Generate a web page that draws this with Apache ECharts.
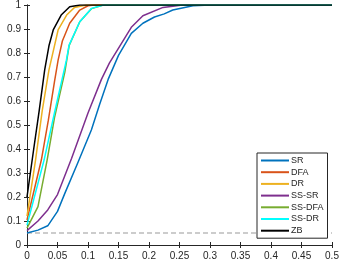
<!DOCTYPE html>
<html><head><meta charset="utf-8">
<script src="https://cdn.jsdelivr.net/npm/echarts@6/dist/echarts.min.js"></script>
<style>html,body{margin:0;padding:0;background:#fff}#c{width:345px;height:273px}</style>
</head><body><div id="c"></div>
<script>
var seriesNames = ['SR','DFA','DR','SS-SR','SS-DFA','SS-DR','ZB'];
var seriesColors = ['#0072BD','#D95319','#EDB120','#7E2F8E','#77AC30','#00FFFF','#000000'];
var SR = [[0,0.05],[0.018,0.062],[0.034,0.08],[0.05,0.14],[0.062,0.215],[0.084,0.347],[0.1055,0.479],[0.119,0.585],[0.133,0.69],[0.15,0.79],[0.171,0.882],[0.19,0.924],[0.209,0.95],[0.225,0.963],[0.239,0.979],[0.272,0.997],[0.3,1],[0.5,1]];
var DFA = [[0,0.104],[0.0235,0.354],[0.035,0.52],[0.045,0.68],[0.051,0.77],[0.058,0.85],[0.070,0.924],[0.0865,0.979],[0.1,0.997],[0.11,1],[0.5,1]];
var DR = [[0,0.12],[0.014,0.354],[0.025,0.56],[0.036,0.73],[0.051,0.896],[0.065,0.958],[0.078,0.99],[0.097,1],[0.5,1]];
var SSSR = [[0,0.06],[0.018,0.10],[0.034,0.146],[0.05,0.21],[0.073,0.36],[0.1,0.55],[0.122,0.69],[0.135,0.758],[0.171,0.907],[0.19,0.955],[0.223,0.99],[0.255,1],[0.5,1]];
var SSDFA = [[0,0.07],[0.018,0.16],[0.033,0.354],[0.045,0.53],[0.062,0.72],[0.069,0.83],[0.0865,0.93],[0.106,0.985],[0.125,1],[0.5,1]];
var SSDR = [[0,0.083],[0.028,0.354],[0.045,0.55],[0.0646,0.77],[0.069,0.833],[0.0865,0.93],[0.106,0.986],[0.125,1],[0.5,1]];
var ZB = [[0,0.20],[0.011,0.40],[0.02,0.56],[0.029,0.73],[0.036,0.83],[0.043,0.896],[0.056,0.958],[0.07,0.993],[0.087,1],[0.5,1]];
var refLevel = [[0,0.05],[0.5,0.05]];
var xTickLabels = ['0','0.05','0.1','0.15','0.2','0.25','0.3','0.35','0.4','0.45','0.5'];
var yTickLabels = ['0','0.1','0.2','0.3','0.4','0.5','0.6','0.7','0.8','0.9','1'];

var allData = [SR, DFA, DR, SSSR, SSDFA, SSDR, ZB];
var chart = echarts.init(document.getElementById('c'));
var axisCol = '#262626';
var lbl = {color:'#262626', fontSize:10, fontFamily:'Liberation Sans, Arial, sans-serif'};
function xl(v){ return xTickLabels[Math.round(v/0.05)]; }
function yl(v){ return yTickLabels[Math.round(v/0.1)]; }
var series = allData.map(function(d,i){
  return {name: seriesNames[i], type:'line', data:d, symbol:'none', animation:false,
    lineStyle:{color:seriesColors[i], width:1.5}, itemStyle:{color:seriesColors[i]}, z: 3+i};
});
series.unshift({name:'ref', type:'line', data:refLevel, symbol:'none', animation:false,
  lineStyle:{color:'#999', width:1, type:[5,3]}, z:2});
chart.setOption({
  animation:false,
  grid:{left:27, right:13, top:5, bottom:28, containLabel:false},
  xAxis:[
    {type:'value', min:0, max:0.5, interval:0.05, position:'bottom',
     axisLine:{lineStyle:{color:axisCol, width:1}}, axisTick:{inside:true, length:3, lineStyle:{color:axisCol}},
     axisLabel:Object.assign({formatter:xl, margin:6}, lbl), splitLine:{show:false}},
    {type:'value', min:0, max:0.5, interval:0.05, position:'top',
     axisLine:{lineStyle:{color:axisCol, width:1}}, axisTick:{inside:true, length:3, lineStyle:{color:axisCol}},
     axisLabel:{show:false}, splitLine:{show:false}}
  ],
  yAxis:[
    {type:'value', min:0, max:1, interval:0.1, position:'left',
     axisLine:{show:true, lineStyle:{color:axisCol, width:1}}, axisTick:{show:true, inside:true, length:3, lineStyle:{color:axisCol}},
     axisLabel:Object.assign({formatter:yl, margin:6}, lbl), splitLine:{show:false}},
    {type:'value', min:0, max:1, interval:0.1, position:'right',
     axisLine:{show:true, lineStyle:{color:axisCol, width:1}}, axisTick:{show:true, inside:true, length:3, lineStyle:{color:axisCol}},
     axisLabel:{show:false}, splitLine:{show:false}}
  ],
  legend:{data:seriesNames, orient:'vertical', left:257, top:153, width:68,
    backgroundColor:'#fff', borderColor:'#262626', borderWidth:1, padding:[3,4,3,3],
    itemWidth:28, itemHeight:10, itemGap:2.7,
    itemStyle:{opacity:0},
    textStyle:{color:'#262626', fontSize:9, fontFamily:'Liberation Sans, Arial, sans-serif', padding:[0,0,0,-3]}},
  series: series
});
</script></body></html>
